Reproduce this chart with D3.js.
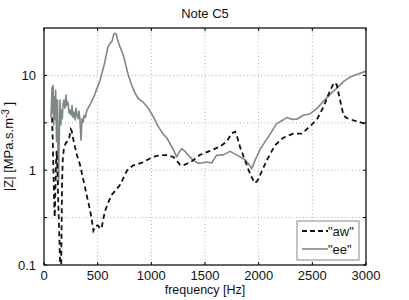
<!DOCTYPE html>
<html>
<head>
<meta charset="utf-8">
<script src="https://cdn.jsdelivr.net/npm/d3@7"></script>
<style>
  body { margin: 0; background: #fff; }
  text { font-family: "Liberation Sans", Arial, sans-serif; }
</style>
</head>
<body>
<div id="chart"></div>
<script>
// "aw" curve (dashed)
const awFreq = [75, 82, 88, 95, 100, 106, 112, 118, 124, 130, 138, 146, 152, 158, 163, 168, 175, 185, 200, 215, 235, 250, 258, 270, 289, 310, 335, 360, 382, 405, 429, 445, 460, 480, 506, 520, 537, 568, 600, 631, 670, 708, 745, 775, 829, 913, 988, 1050, 1100, 1143, 1205, 1240, 1267, 1300, 1330, 1360, 1400, 1453, 1500, 1547, 1600, 1640, 1702, 1749, 1780, 1800, 1826, 1873, 1919, 1950, 1966, 1990, 2012, 2075, 2152, 2230, 2323, 2401, 2478, 2541, 2602, 2665, 2702, 2727, 2758, 2790, 2820, 2882, 2950, 3000];
const awZ = [3.6, 2.0, 1.0, 0.45, 0.32, 0.6, 1.2, 1.6, 1.1, 0.6, 0.3, 0.15, 0.08, 0.06, 0.2, 0.7, 1.3, 1.7, 1.9, 2.0, 2.2, 2.7, 2.6, 2.2, 1.75, 1.4, 1.15, 0.85, 0.66, 0.5, 0.38, 0.3, 0.23, 0.26, 0.26, 0.24, 0.25, 0.37, 0.46, 0.55, 0.62, 0.70, 0.85, 1.0, 1.12, 1.2, 1.33, 1.42, 1.44, 1.44, 1.38, 1.25, 1.14, 1.13, 1.17, 1.2, 1.3, 1.45, 1.52, 1.6, 1.7, 1.78, 2.0, 2.45, 2.55, 2.25, 1.76, 1.27, 0.92, 0.78, 0.73, 0.78, 0.88, 1.27, 1.83, 2.2, 2.43, 2.43, 2.9, 3.4, 4.6, 6.9, 8.4, 8.0, 5.5, 3.8, 3.55, 3.36, 3.2, 3.05];

// "ee" curve (grey)
const eeFreq = [65, 75, 80, 85, 90, 95, 102, 108, 112, 117, 121, 126, 130, 135, 140, 145, 150, 157, 163, 170, 178, 186, 195, 205, 214, 224, 233, 242, 252, 261, 270, 280, 290, 298, 308, 317, 326, 335, 345, 354, 365, 373, 385, 400, 429, 466, 494, 522, 559, 596, 615, 634, 652, 671, 689, 708, 739, 785, 817, 848, 879, 925, 972, 1018, 1065, 1112, 1143, 1205, 1236, 1260, 1283, 1310, 1330, 1391, 1438, 1480, 1516, 1562, 1609, 1671, 1733, 1795, 1873, 1910, 1935, 1970, 2012, 2060, 2106, 2168, 2230, 2262, 2308, 2355, 2416, 2478, 2541, 2602, 2665, 2727, 2789, 2851, 2913, 2991, 3000];
const eeZ = [3.6, 7.5, 4.0, 7.8, 3.0, 6.0, 3.4, 7.0, 5.0, 2.0, 2.3, 5.5, 1.5, 0.72, 1.6, 3.5, 5.5, 3.0, 4.3, 3.5, 5.0, 5.5, 4.5, 6.2, 4.8, 5.2, 4.0, 4.3, 3.8, 4.8, 3.6, 4.1, 3.4, 4.5, 3.8, 3.5, 4.2, 3.4, 2.07, 3.5, 3.2, 3.8, 3.6, 4.3, 4.9, 6.0, 7.3, 8.9, 12.7, 20, 21.7, 23, 27.7, 27.7, 23, 20, 16.4, 10.1, 7.9, 6.5, 5.7, 5.2, 4.5, 3.67, 2.88, 2.39, 2.2, 1.65, 1.38, 1.55, 1.69, 1.6, 1.5, 1.27, 1.18, 1.2, 1.22, 1.19, 1.44, 1.45, 1.58, 1.45, 1.29, 1.15, 1.04, 1.3, 1.65, 2.0, 2.4, 3.1, 3.4, 3.59, 3.44, 3.45, 3.8, 3.92, 4.46, 5.3, 6.3, 7.3, 8.6, 9.6, 10.2, 11.0, 11.1];

const xTicks = [0, 500, 1000, 1500, 2000, 2500, 3000];
const yTicks = [0.1, 1, 10];
const yGrid = [0.1, Math.sqrt(0.1), 1, Math.sqrt(10), 10];

const width = 409;
const height = 300;
const margin = { top: 28, right: 43, bottom: 35, left: 44 };

const x = d3.scaleLinear()
    .domain([0, 3000])
    .range([margin.left, width - margin.right]);

const y = d3.scaleLog()
    .domain([0.1, Math.pow(10, 1.5)])
    .range([height - margin.bottom, margin.top]);

const svg = d3.select('#chart')
    .append('svg')
    .attr('width', width)
    .attr('height', height);

const x0 = margin.left, x1 = width - margin.right;
const y0 = height - margin.bottom, y1 = margin.top;

svg.append('defs').append('clipPath')
    .attr('id', 'plot-clip')
    .append('rect')
    .attr('x', x0).attr('y', y1)
    .attr('width', x1 - x0).attr('height', y0 - y1);

// grid
svg.append('g')
    .selectAll('line')
    .data(xTicks.slice(1, -1))
    .join('line')
    .attr('x1', d => x(d)).attr('x2', d => x(d))
    .attr('y1', y1).attr('y2', y0)
    .attr('stroke', '#999')
    .attr('stroke-width', 0.8)
    .attr('stroke-dasharray', '1,2.5');

svg.append('g')
    .selectAll('line')
    .data(yGrid.slice(1))
    .join('line')
    .attr('x1', x0).attr('x2', x1)
    .attr('y1', d => y(d)).attr('y2', d => y(d))
    .attr('stroke', '#999')
    .attr('stroke-width', 0.8)
    .attr('stroke-dasharray', '1,2.5');

// inner ticks on all four sides
const tickLen = 3;
svg.append('g')
    .selectAll('line')
    .data(xTicks)
    .join('line')
    .attr('x1', d => x(d)).attr('x2', d => x(d))
    .attr('y1', y0).attr('y2', y0 - tickLen)
    .attr('stroke', '#000');
svg.append('g')
    .selectAll('line')
    .data(xTicks)
    .join('line')
    .attr('x1', d => x(d)).attr('x2', d => x(d))
    .attr('y1', y1).attr('y2', y1 + tickLen)
    .attr('stroke', '#000');
svg.append('g')
    .selectAll('line')
    .data(yGrid)
    .join('line')
    .attr('x1', x0).attr('x2', x0 + tickLen)
    .attr('y1', d => y(d)).attr('y2', d => y(d))
    .attr('stroke', '#000');
svg.append('g')
    .selectAll('line')
    .data(yGrid)
    .join('line')
    .attr('x1', x1).attr('x2', x1 - tickLen)
    .attr('y1', d => y(d)).attr('y2', d => y(d))
    .attr('stroke', '#000');

// curves
const line = d3.line()
    .x(d => x(d[0]))
    .y(d => y(d[1]));

const plot = svg.append('g').attr('clip-path', 'url(#plot-clip)');

plot.append('path')
    .datum(eeFreq.map((f, i) => [f, eeZ[i]]))
    .attr('d', line)
    .attr('fill', 'none')
    .attr('stroke', '#7d8986')
    .attr('stroke-width', 1.6)
    .attr('stroke-linejoin', 'round');

plot.append('path')
    .datum(awFreq.map((f, i) => [f, awZ[i]]))
    .attr('d', line)
    .attr('fill', 'none')
    .attr('stroke', '#111')
    .attr('stroke-width', 1.8)
    .attr('stroke-dasharray', '5,3.5');

// box
svg.append('rect')
    .attr('x', x0).attr('y', y1)
    .attr('width', x1 - x0).attr('height', y0 - y1)
    .attr('fill', 'none')
    .attr('stroke', '#000')
    .attr('stroke-width', 1.2);

// tick labels
svg.append('g')
    .selectAll('text')
    .data(xTicks)
    .join('text')
    .attr('x', d => x(d))
    .attr('y', y0 + 14.5)
    .attr('text-anchor', 'middle')
    .attr('font-size', '13px')
    .attr('fill', '#111')
    .text(d => d);

svg.append('g')
    .selectAll('text')
    .data(yTicks)
    .join('text')
    .attr('x', x0 - 8)
    .attr('y', d => y(d) + 4.5)
    .attr('text-anchor', 'end')
    .attr('font-size', '13px')
    .attr('fill', '#111')
    .text(d => d);

// title and axis labels
svg.append('text')
    .attr('x', (x0 + x1) / 2)
    .attr('y', 18)
    .attr('text-anchor', 'middle')
    .attr('font-size', '13px')
    .attr('fill', '#111')
    .text('Note C5');

svg.append('text')
    .attr('x', (x0 + x1) / 2)
    .attr('y', 294)
    .attr('text-anchor', 'middle')
    .attr('font-size', '12.5px')
    .attr('fill', '#111')
    .text('frequency [Hz]');

const ylab = svg.append('text')
    .attr('transform', `translate(13, ${(y0 + y1) / 2}) rotate(-90)`)
    .attr('text-anchor', 'middle')
    .attr('font-size', '13px')
    .attr('fill', '#111');
ylab.append('tspan').text('|Z| [MPa.s.m');
ylab.append('tspan').attr('font-size', '10px').attr('dy', -4).text('-3');
ylab.append('tspan').attr('dy', 4).text(' ]');

// legend
const legend = svg.append('g').attr('transform', 'translate(297, 221)');
legend.append('rect')
    .attr('width', 62).attr('height', 39)
    .attr('fill', '#fff')
    .attr('stroke', '#888')
    .attr('stroke-width', 1);

const legendItems = [
    { label: '"aw"', color: '#111', dash: '5,3', width: 1.8 },
    { label: '"ee"', color: '#7d8986', dash: null, width: 1.6 }
];

const entries = legend.selectAll('g')
    .data(legendItems)
    .join('g')
    .attr('transform', (d, i) => `translate(0, ${10 + i * 18})`);

entries.append('line')
    .attr('x1', 5).attr('x2', 31)
    .attr('stroke', d => d.color)
    .attr('stroke-width', d => d.width)
    .attr('stroke-dasharray', d => d.dash);

entries.append('text')
    .attr('x', 31)
    .attr('y', 5)
    .attr('font-size', '13px')
    .attr('fill', '#111')
    .text(d => d.label);
</script>
</body>
</html>
